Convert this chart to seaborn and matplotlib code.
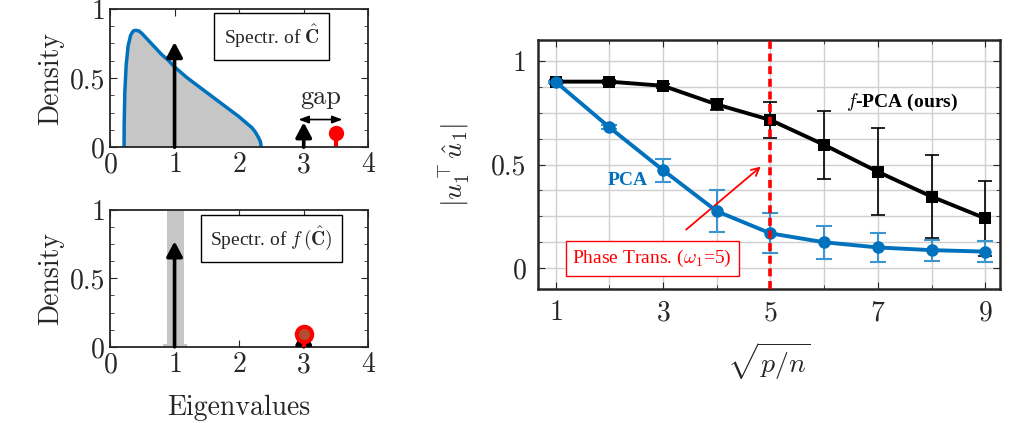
import numpy as np
import pandas as pd
import matplotlib
matplotlib.use("Agg")
import matplotlib.pyplot as plt
from matplotlib.ticker import MultipleLocator
import seaborn as sns

# spectrum of C-hat
mp_x = [0.218, 0.22, 0.23, 0.25, 0.28, 0.32, 0.36, 0.40, 0.45, 0.5, 0.6, 0.7, 0.8, 0.9,
        1.0, 1.2, 1.4, 1.6, 1.8, 2.0, 2.1, 2.2, 2.25, 2.3, 2.33, 2.342]
mp_y = [0.0, 0.17, 0.40, 0.59, 0.73, 0.81, 0.84, 0.845, 0.84, 0.82, 0.77, 0.72, 0.67, 0.63,
        0.58, 0.50, 0.43, 0.36, 0.29, 0.22, 0.18, 0.14, 0.11, 0.07, 0.04, 0.0]

# right panel
ratio = [1, 2, 3, 4, 5, 6, 7, 8, 9]
fpca = [0.90, 0.90, 0.88, 0.79, 0.715, 0.595, 0.465, 0.345, 0.24]
fpca_err = [0.01, 0.01, 0.01, 0.025, 0.085, 0.165, 0.21, 0.20, 0.18]
pca = [0.90, 0.68, 0.473, 0.275, 0.168, 0.125, 0.10, 0.087, 0.08]
pca_err = [0.005, 0.01, 0.055, 0.10, 0.097, 0.08, 0.07, 0.05, 0.05]

blue = "#0072BD"
sns.set_style("ticks")
plt.rcParams["font.family"] = ["cmr10", "DejaVu Serif"]
plt.rcParams["mathtext.fontset"] = "cm"
plt.rcParams["axes.formatter.use_mathtext"] = True
plt.rcParams["font.size"] = 20
serif = ["Liberation Serif", "DejaVu Serif"]

fig = plt.figure(figsize=(10.09, 4.23), dpi=100)
ax1 = fig.add_axes([0.109, 0.652, 0.256, 0.327])
ax2 = fig.add_axes([0.109, 0.180, 0.256, 0.324])
ax3 = fig.add_axes([0.533, 0.317, 0.458, 0.588])

arrow_kw = dict(arrowstyle="-|>,head_width=0.24,head_length=0.45", lw=2.6, color="k",
                shrinkA=0, shrinkB=0, mutation_scale=20)

# top left
ax1.fill_between(mp_x, mp_y, color="#c6c6c6", lw=0)
sns.lineplot(x=mp_x, y=mp_y, ax=ax1, color=blue, lw=2.5, sort=False)
ax1.annotate("", xy=(1, 0.76), xytext=(1, 0), arrowprops=arrow_kw)
ax1.annotate("", xy=(3, 0.18), xytext=(3, 0), arrowprops=arrow_kw)
ax1.plot([3.5, 3.5], [0, 0.1], color="red", lw=3)
ax1.plot([3.5], [0.1], "o", color="red", ms=10)
ax1.annotate("", xy=(2.92, 0.2), xytext=(3.6, 0.2),
             arrowprops=dict(arrowstyle="<|-|>,head_width=0.15,head_length=0.4", lw=1.2,
                             color="k", shrinkA=0, shrinkB=0, mutation_scale=15))
ax1.text(3.26, 0.36, "gap", ha="center", va="center", fontsize=19)
ax1.text(2.5, 0.8, r"Spectr. of $\hat{\mathbf{C}}$", ha="center", va="center", fontsize=14,
         family=serif, bbox=dict(boxstyle="square,pad=0.5", fc="white", ec="k", lw=1))
ax1.set_ylabel("Density")

# bottom left
ax2.fill_between([0.82, 0.88, 0.88, 1.15, 1.15, 1.2], [0.02, 0.02, 1.1, 1.1, 0.02, 0.02],
                 color="#c6c6c6", lw=0)
ax2.annotate("", xy=(1, 0.77), xytext=(1, 0), arrowprops=arrow_kw)
ax2.annotate("", xy=(3, 0.13), xytext=(3, 0), arrowprops=arrow_kw)
ax2.plot([3, 3], [0, 0.095], color="red", lw=3, zorder=5)
ax2.plot([3], [0.095], "o", color="red", ms=11, mec="red", mfc="#b05030", mew=3, zorder=6)
ax2.text(2.5, 0.79, r"Spectr. of $f\,(\hat{\mathbf{C}})$", ha="center", va="center",
         fontsize=14, family=serif,
         bbox=dict(boxstyle="square,pad=0.5", fc="white", ec="k", lw=1))
ax2.set_ylabel("Density")
ax2.set_xlabel("Eigenvalues", labelpad=12)

for ax in (ax1, ax2):
    ax.set_xlim(0, 4)
    ax.set_ylim(0, 1)
    ax.set_xticks([0, 1, 2, 3, 4])
    ax.set_yticks([0, 0.5, 1])
    ax.set_yticklabels(["0", "0.5", "1"])
    ax.yaxis.set_minor_locator(MultipleLocator(0.125))
    ax.tick_params(which="both", direction="in", top=True, right=True, labelsize=20)
    ax.tick_params(which="major", length=5)
    ax.tick_params(which="minor", length=3)
    for s in ax.spines.values():
        s.set_linewidth(1.3)

# right panel
df = pd.DataFrame({"ratio": ratio * 2, "val": fpca + pca,
                   "method": ["f-PCA"] * 9 + ["PCA"] * 9})
ax3.errorbar(ratio, fpca, yerr=fpca_err, fmt="none", ecolor="k", elinewidth=1.2,
             capsize=5, capthick=1.2, zorder=3)
ax3.errorbar(ratio, pca, yerr=pca_err, fmt="none", ecolor="#3a95d0", elinewidth=1.5,
             capsize=6, capthick=1.5, zorder=3)
sns.lineplot(data=df, x="ratio", y="val", hue="method", style="method",
             palette={"f-PCA": "k", "PCA": blue}, markers={"f-PCA": "s", "PCA": "o"},
             dashes=False, lw=2.8, markersize=9, markeredgewidth=0, ax=ax3,
             legend=False, zorder=4)
ax3.axvline(5, color="red", lw=2.6, ls=(0, (2.2, 1.3)), zorder=5)
ax3.annotate("Phase Trans. ($\\omega_1$=5)", xy=(4.82, 0.49), xytext=(2.8, 0.048),
             ha="center", va="center", color="red", fontsize=14, family=serif,
             bbox=dict(boxstyle="square,pad=0.35", fc="white", ec="red", lw=1),
             arrowprops=dict(arrowstyle="->", color="red", lw=1.3, shrinkA=12, shrinkB=0))
ax3.text(2.34, 0.425, "PCA", color=blue, fontsize=14, fontweight="bold", family=serif,
         ha="center", va="center")
ax3.text(7.44, 0.80, "$f$-PCA (ours)", color="k", fontsize=14, fontweight="bold",
         family=serif, ha="center", va="center")
ax3.set_xlim(0.67, 9.27)
ax3.set_ylim(-0.1, 1.1)
ax3.set_xticks([1, 3, 5, 7, 9])
ax3.set_yticks([0, 0.5, 1])
ax3.set_yticklabels(["0", "0.5", "1"])
ax3.xaxis.set_minor_locator(MultipleLocator(1))
ax3.yaxis.set_minor_locator(MultipleLocator(0.125))
ax3.grid(which="both", color="#d0d0d0", lw=1)
ax3.set_axisbelow(True)
ax3.tick_params(which="both", direction="in", top=True, right=True, labelsize=20)
ax3.tick_params(which="major", length=5, pad=8)
ax3.tick_params(which="minor", length=3)
for s in ax3.spines.values():
    s.set_linewidth(1.8)
ax3.set_xlabel(r"$\sqrt{p/n}$", labelpad=10)
ax3.set_ylabel(r"$|u_1^{\top}\hat{u}_1|$", labelpad=14)

fig.savefig("out.png", dpi=100)
